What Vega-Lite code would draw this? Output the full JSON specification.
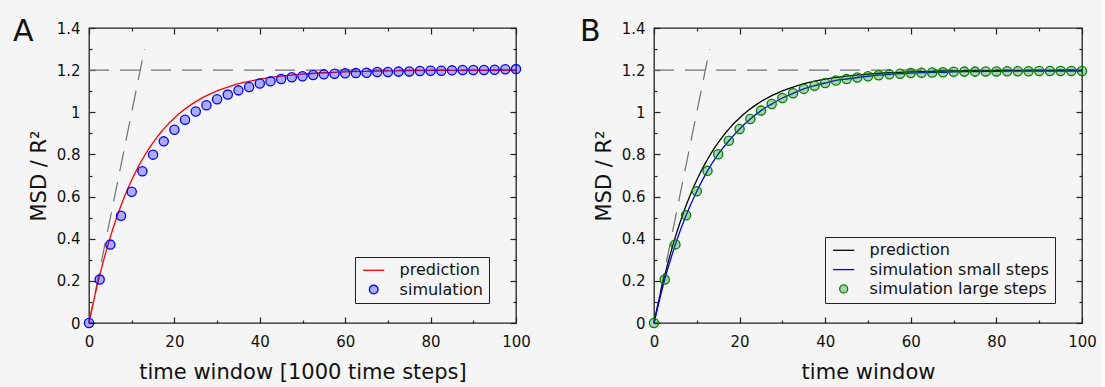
{
  "$schema": "https://vega.github.io/schema/vega-lite/v6.json",
  "background": "#f5f5f5",
  "padding": {"left": 12, "top": 16, "right": 5, "bottom": 5},
  "spacing": 138,
  "bounds": "flush",
  "config": {
    "font": "DejaVu Sans",
    "view": {"stroke": "#222222", "strokeWidth": 1.3},
    "axis": {"grid": false, "domain": false, "labelFlush": false, "tickColor": "#222222", "tickWidth": 1.2, "labelFont": "DejaVu Sans", "labelFontSize": 15, "labelColor": "#111111", "titleFont": "DejaVu Sans", "titleFontSize": 21, "titleFontWeight": "normal", "titleColor": "#111111"},
    "legend": {"labelFont": "DejaVu Sans", "labelFontSize": 16, "labelColor": "#111111", "labelLimit": 400, "strokeColor": "#222222", "padding": 5.3, "symbolSize": 44, "symbolOffset": 5.4, "labelOffset": 17.9, "rowPadding": 3.3, "orient": "none"},
    "title": {"font": "DejaVu Sans", "fontSize": 30, "fontWeight": "normal", "color": "#111111", "anchor": "start", "frame": "group"}
  },
  "datasets": {
    "hline": [{"x": 0, "y": 1.2}, {"x": 100, "y": 1.2}],
    "slope": [{"x": 0, "y": 0}, {"x": 13, "y": 1.3}],
    "pred": [
      {"x": 0, "y": 0}, {"x": 1, "y": 0.096}, {"x": 2, "y": 0.1842}, {"x": 3, "y": 0.2654}, {"x": 4, "y": 0.3402}, {"x": 5, "y": 0.4089}, {"x": 6, "y": 0.4722}, {"x": 7, "y": 0.5304}, {"x": 8, "y": 0.5839}, {"x": 9, "y": 0.6332}, {"x": 10, "y": 0.6785}, {"x": 11, "y": 0.7202}, {"x": 12, "y": 0.7585}, {"x": 13, "y": 0.7938}, {"x": 14, "y": 0.8263}, {"x": 15, "y": 0.8562}, {"x": 16, "y": 0.8837}, {"x": 17, "y": 0.909}, {"x": 18, "y": 0.9322}, {"x": 19, "y": 0.9537}, {"x": 20, "y": 0.9733}, {"x": 22, "y": 1.0081}, {"x": 24, "y": 1.0376}, {"x": 26, "y": 1.0625}, {"x": 28, "y": 1.0836}, {"x": 30, "y": 1.1015}, {"x": 33, "y": 1.1233}, {"x": 36, "y": 1.1403}, {"x": 40, "y": 1.1572}, {"x": 45, "y": 1.1718}, {"x": 50, "y": 1.1814}, {"x": 55, "y": 1.1877}, {"x": 60, "y": 1.1919}, {"x": 70, "y": 1.1965}, {"x": 80, "y": 1.1985}, {"x": 90, "y": 1.1993}, {"x": 100, "y": 1.1997}
    ],
    "simA": [
      {"x": 0, "y": 0}, {"x": 2.5, "y": 0.206}, {"x": 5, "y": 0.372}, {"x": 7.5, "y": 0.509}, {"x": 10, "y": 0.623}, {"x": 12.5, "y": 0.72}, {"x": 15, "y": 0.799}, {"x": 17.5, "y": 0.862}, {"x": 20, "y": 0.917}, {"x": 22.5, "y": 0.965}, {"x": 25, "y": 1.004}, {"x": 27.5, "y": 1.033}, {"x": 30, "y": 1.062}, {"x": 32.5, "y": 1.084}, {"x": 35, "y": 1.104}, {"x": 37.5, "y": 1.12}, {"x": 40, "y": 1.137}, {"x": 42.5, "y": 1.147}, {"x": 45, "y": 1.158}, {"x": 47.5, "y": 1.166}, {"x": 50, "y": 1.171}, {"x": 52.5, "y": 1.177}, {"x": 55, "y": 1.18}, {"x": 57.5, "y": 1.183}, {"x": 60, "y": 1.185}, {"x": 62.5, "y": 1.186}, {"x": 65, "y": 1.188}, {"x": 67.5, "y": 1.191}, {"x": 70, "y": 1.191}, {"x": 72.5, "y": 1.193}, {"x": 75, "y": 1.194}, {"x": 77.5, "y": 1.196}, {"x": 80, "y": 1.197}, {"x": 82.5, "y": 1.197}, {"x": 85, "y": 1.199}, {"x": 87.5, "y": 1.201}, {"x": 90, "y": 1.201}, {"x": 92.5, "y": 1.201}, {"x": 95, "y": 1.202}, {"x": 97.5, "y": 1.204}, {"x": 100, "y": 1.205}
    ],
    "simB": [
      {"x": 0, "y": 0}, {"x": 2.5, "y": 0.206}, {"x": 5, "y": 0.373}, {"x": 7.5, "y": 0.511}, {"x": 10, "y": 0.625}, {"x": 12.5, "y": 0.722}, {"x": 15, "y": 0.801}, {"x": 17.5, "y": 0.865}, {"x": 20, "y": 0.921}, {"x": 22.5, "y": 0.968}, {"x": 25, "y": 1.008}, {"x": 27.5, "y": 1.039}, {"x": 30, "y": 1.068}, {"x": 32.5, "y": 1.09}, {"x": 35, "y": 1.111}, {"x": 37.5, "y": 1.126}, {"x": 40, "y": 1.139}, {"x": 42.5, "y": 1.151}, {"x": 45, "y": 1.158}, {"x": 47.5, "y": 1.165}, {"x": 50, "y": 1.171}, {"x": 52.5, "y": 1.176}, {"x": 55, "y": 1.18}, {"x": 57.5, "y": 1.183}, {"x": 60, "y": 1.186}, {"x": 62.5, "y": 1.188}, {"x": 65, "y": 1.189}, {"x": 67.5, "y": 1.19}, {"x": 70, "y": 1.192}, {"x": 72.5, "y": 1.193}, {"x": 75, "y": 1.193}, {"x": 77.5, "y": 1.194}, {"x": 80, "y": 1.194}, {"x": 82.5, "y": 1.195}, {"x": 85, "y": 1.195}, {"x": 87.5, "y": 1.195}, {"x": 90, "y": 1.196}, {"x": 92.5, "y": 1.196}, {"x": 95, "y": 1.196}, {"x": 97.5, "y": 1.196}, {"x": 100, "y": 1.196}
    ]
  },
  "resolve": {"scale": {"color": "independent"}, "legend": {"color": "independent"}},
  "hconcat": [
    {
      "width": 427,
      "height": 295,
      "title": {"text": "A", "dx": -76, "dy": 30},
      "resolve": {"axis": {"x": "independent", "y": "independent"}},
      "layer": [
        {
          "data": {"name": "hline"},
          "mark": {"type": "line", "color": "#707070", "strokeDash": [20, 11], "strokeWidth": 1.2},
          "encoding": {
            "x": {"field": "x", "type": "quantitative", "scale": {"domain": [0, 100], "nice": false},
              "axis": {"orient": "bottom", "title": "time window [1000 time steps]", "values": [0, 10, 20, 30, 40, 50, 60, 70, 80, 90, 100], "tickSize": {"expr": "datum.value % 20 === 0 ? -6 : -3"}, "labelExpr": "datum.value % 20 === 0 ? datum.label : ''", "format": "d", "labelPadding": 17.7, "titlePadding": 11.3}},
            "y": {"field": "y", "type": "quantitative", "scale": {"domain": [0, 1.4], "nice": false},
              "axis": {"orient": "left", "title": "MSD / R²", "values": [0, 0.1, 0.2, 0.3, 0.4, 0.5, 0.6, 0.7, 0.8, 0.9, 1, 1.1, 1.2, 1.3, 1.4], "tickSize": {"expr": "round(datum.value * 10) % 2 === 0 ? -6 : -3"}, "labelExpr": "round(datum.value * 10) % 2 === 0 ? datum.label : ''", "format": "~g", "labelPadding": 15, "titlePadding": 6.5}}
          }
        },
        {
          "data": {"name": "slope"},
          "mark": {"type": "line", "color": "#707070", "strokeDash": [20, 11], "strokeWidth": 1.2},
          "encoding": {
            "x": {"field": "x", "type": "quantitative", "axis": {"orient": "top", "title": null, "labels": false, "values": [0, 10, 20, 30, 40, 50, 60, 70, 80, 90, 100], "tickSize": {"expr": "datum.value % 20 === 0 ? -6 : -3"}}},
            "y": {"field": "y", "type": "quantitative", "axis": {"orient": "right", "title": null, "labels": false, "values": [0, 0.1, 0.2, 0.3, 0.4, 0.5, 0.6, 0.7, 0.8, 0.9, 1, 1.1, 1.2, 1.3, 1.4], "tickSize": {"expr": "round(datum.value * 10) % 2 === 0 ? -6 : -3"}}}
          }
        },
        {
          "data": {"name": "pred"},
          "transform": [{"calculate": "'prediction'", "as": "s"}],
          "mark": {"type": "line", "strokeWidth": 1.3, "interpolate": "monotone"},
          "encoding": {
            "x": {"field": "x", "type": "quantitative", "axis": null},
            "y": {"field": "y", "type": "quantitative", "axis": null},
            "color": {"field": "s", "type": "nominal", "scale": {"domain": ["prediction", "simulation"], "range": ["#ff0000", "#0000ff"]},
              "legend": {"title": null, "legendX": 266, "legendY": 229,
                "encode": {"symbols": {"update": {
                  "shape": {"signal": "datum.value === 'simulation' ? 'circle' : 'M-3.2,0H3.2'"},
                  "size": {"signal": "datum.value === 'simulation' ? 75 : 44"},
                  "fill": {"signal": "datum.value === 'simulation' ? '#0000ff' : 'transparent'"},
                  "fillOpacity": {"signal": "datum.value === 'simulation' ? 0.3 : 0"},
                  "stroke": {"signal": "datum.value === 'simulation' ? '#0000ff' : '#ff0000'"},
                  "strokeWidth": {"value": 1.3},
                  "opacity": {"value": 1}
                }}}}}
          }
        },
        {
          "data": {"name": "simA"},
          "transform": [{"calculate": "'simulation'", "as": "s"}],
          "mark": {"type": "point", "filled": true, "size": 85, "fillOpacity": 0.3, "stroke": "#0000ff", "strokeWidth": 1.3, "strokeOpacity": 1, "opacity": 1},
          "encoding": {
            "x": {"field": "x", "type": "quantitative", "axis": null},
            "y": {"field": "y", "type": "quantitative", "axis": null},
            "color": {"field": "s", "type": "nominal"}
          }
        }
      ]
    },
    {
      "width": 428,
      "height": 295,
      "title": {"text": "B", "dx": -74, "dy": 30},
      "resolve": {"axis": {"x": "independent", "y": "independent"}},
      "layer": [
        {
          "data": {"name": "hline"},
          "mark": {"type": "line", "color": "#707070", "strokeDash": [20, 11], "strokeWidth": 1.2},
          "encoding": {
            "x": {"field": "x", "type": "quantitative", "scale": {"domain": [0, 100], "nice": false},
              "axis": {"orient": "bottom", "title": "time window", "values": [0, 10, 20, 30, 40, 50, 60, 70, 80, 90, 100], "tickSize": {"expr": "datum.value % 20 === 0 ? -6 : -3"}, "labelExpr": "datum.value % 20 === 0 ? datum.label : ''", "format": "d", "labelPadding": 17.7, "titlePadding": 11.3}},
            "y": {"field": "y", "type": "quantitative", "scale": {"domain": [0, 1.4], "nice": false},
              "axis": {"orient": "left", "title": "MSD / R²", "values": [0, 0.1, 0.2, 0.3, 0.4, 0.5, 0.6, 0.7, 0.8, 0.9, 1, 1.1, 1.2, 1.3, 1.4], "tickSize": {"expr": "round(datum.value * 10) % 2 === 0 ? -6 : -3"}, "labelExpr": "round(datum.value * 10) % 2 === 0 ? datum.label : ''", "format": "~g", "labelPadding": 15, "titlePadding": 6.5}}
          }
        },
        {
          "data": {"name": "slope"},
          "mark": {"type": "line", "color": "#707070", "strokeDash": [20, 11], "strokeWidth": 1.2},
          "encoding": {
            "x": {"field": "x", "type": "quantitative", "axis": {"orient": "top", "title": null, "labels": false, "values": [0, 10, 20, 30, 40, 50, 60, 70, 80, 90, 100], "tickSize": {"expr": "datum.value % 20 === 0 ? -6 : -3"}}},
            "y": {"field": "y", "type": "quantitative", "axis": {"orient": "right", "title": null, "labels": false, "values": [0, 0.1, 0.2, 0.3, 0.4, 0.5, 0.6, 0.7, 0.8, 0.9, 1, 1.1, 1.2, 1.3, 1.4], "tickSize": {"expr": "round(datum.value * 10) % 2 === 0 ? -6 : -3"}}}
          }
        },
        {
          "data": {"name": "pred"},
          "transform": [{"calculate": "'prediction'", "as": "s"}],
          "mark": {"type": "line", "strokeWidth": 1.3, "interpolate": "monotone"},
          "encoding": {
            "x": {"field": "x", "type": "quantitative", "axis": null},
            "y": {"field": "y", "type": "quantitative", "axis": null},
            "color": {"field": "s", "type": "nominal", "scale": {"domain": ["prediction", "simulation small steps", "simulation large steps"], "range": ["#000000", "#0000ff", "#008000"]},
              "legend": {"title": null, "legendX": 171, "legendY": 209,
                "encode": {"symbols": {"update": {
                  "shape": {"signal": "datum.value === 'simulation large steps' ? 'circle' : 'M-3.2,0H3.2'"},
                  "size": {"signal": "datum.value === 'simulation large steps' ? 64 : 44"},
                  "fill": {"signal": "datum.value === 'simulation large steps' ? '#008000' : 'transparent'"},
                  "fillOpacity": {"signal": "datum.value === 'simulation large steps' ? 0.3 : 0"},
                  "stroke": {"signal": "datum.value === 'prediction' ? '#000000' : (datum.value === 'simulation small steps' ? '#0000ff' : '#008000')"},
                  "strokeWidth": {"value": 1.3},
                  "opacity": {"value": 1}
                }}}}}
          }
        },
        {
          "data": {"name": "simB"},
          "transform": [{"calculate": "'simulation small steps'", "as": "s"}],
          "mark": {"type": "line", "strokeWidth": 1.3, "interpolate": "monotone"},
          "encoding": {
            "x": {"field": "x", "type": "quantitative", "axis": null},
            "y": {"field": "y", "type": "quantitative", "axis": null},
            "color": {"field": "s", "type": "nominal"}
          }
        },
        {
          "data": {"name": "simB"},
          "transform": [{"calculate": "'simulation large steps'", "as": "s"}],
          "mark": {"type": "point", "filled": true, "size": 85, "fillOpacity": 0.3, "stroke": "#008000", "strokeWidth": 1.3, "strokeOpacity": 1, "opacity": 1},
          "encoding": {
            "x": {"field": "x", "type": "quantitative", "axis": null},
            "y": {"field": "y", "type": "quantitative", "axis": null},
            "color": {"field": "s", "type": "nominal"}
          }
        }
      ]
    }
  ]
}
